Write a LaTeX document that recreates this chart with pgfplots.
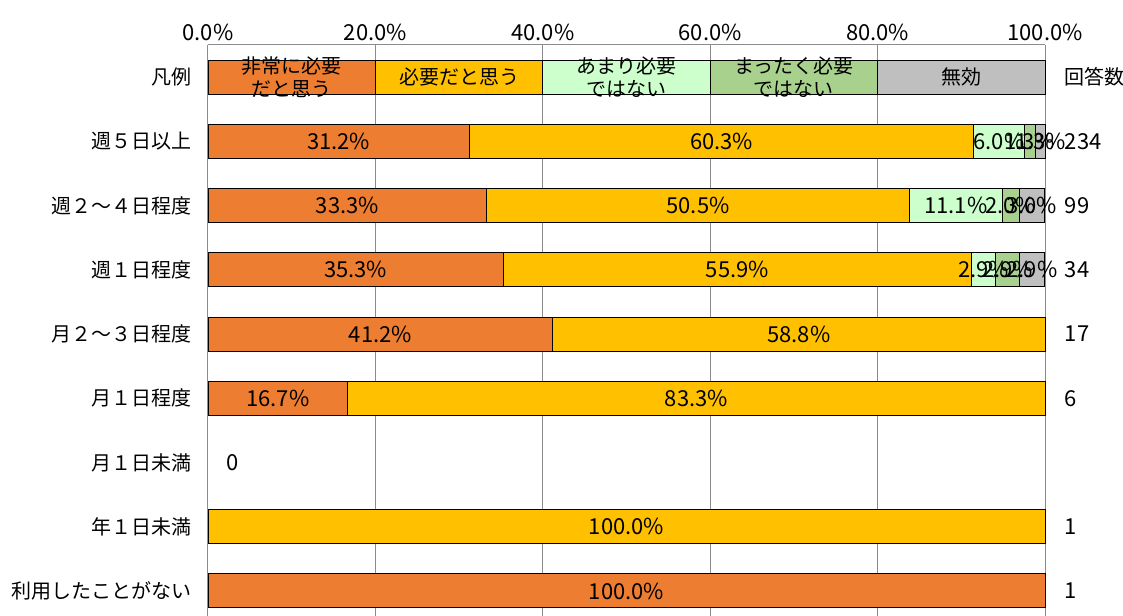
\documentclass[border=0pt]{standalone}
\usepackage{fontspec}
\setmainfont{Noto Sans CJK JP}
\usepackage{pgfplots}
\pgfplotsset{compat=1.18}
\usepackage{pgfplotstable}
\definecolor{c1}{HTML}{ED7D31}
\definecolor{c2}{HTML}{FFC000}
\definecolor{c3}{HTML}{CCFFCC}
\definecolor{c4}{HTML}{A9D18E}
\definecolor{c5}{HTML}{BFBFBF}
\definecolor{gridc}{HTML}{8C8C8C}
\newcommand\myfont{\fontsize{15}{17.5}\selectfont}
\newcommand\numfont{\fontsize{16.5}{19}\selectfont}

% stacked shares (row index y: 0 = legend row)
\pgfplotstableread{
y s1 s2 s3 s4 s5
0 20 20 20 20 20
1 31.2 60.3 6.0 1.3 1.3
2 33.3 50.5 11.1 2.0 3.0
3 35.3 55.9 2.9 2.9 2.9
4 41.2 58.8 0 0 0
5 16.7 83.3 0 0 0
6 0 0 0 0 0
7 0 100 0 0 0
8 100 0 0 0 0
}\shares

% labels at segment centres
\pgfplotstableread{
x y l
15.6 1 31.2\%
61.35 1 60.3\%
94.5 1 6.0\%
98.15 1 1.3\%
99.45 1 1.3\%
16.65 2 33.3\%
58.55 2 50.5\%
89.35 2 11.1\%
95.9 2 2.0\%
98.4 2 3.0\%
17.65 3 35.3\%
63.25 3 55.9\%
92.65 3 2.9\%
95.55 3 2.9\%
98.45 3 2.9\%
20.6 4 41.2\%
70.6 4 58.8\%
8.35 5 16.7\%
58.35 5 83.3\%
50 7 100.0\%
50 8 100.0\%
}\labels

\pgfplotstableread{
x y l
101.8 1 234
101.8 2 99
101.8 3 34
101.8 4 17
101.8 5 6
1.7 6 0
101.8 7 1
101.8 8 1
}\counts

\pgfplotsset{
  geom/.style={
    at={(0pt,0pt)}, anchor=south west,
    scale only axis, width=627.75pt, height=428.25pt,
    xmin=0, xmax=100, ymin=-0.5, ymax=8.39, y dir=reverse,
    clip=false,
  }
}

\begin{document}
\begin{tikzpicture}[font=\myfont]
\useasboundingbox (-156pt,0pt) rectangle (686.25pt,462pt);
\begin{axis}[geom,
  xbar stacked, bar width=25.5pt,
  axis x line*=top, axis y line*=left,
  axis line style={draw=gridc, line width=0.75pt},
  xtick={0,20,...,100},
  xticklabels={0.0\%,20.0\%,40.0\%,60.0\%,80.0\%,100.0\%},
  xmajorgrids, grid style={draw=gridc, line width=0.75pt},
  ytick={0,...,8},
  yticklabels={凡例,週５日以上,週２～４日程度,週１日程度,月２～３日程度,月１日程度,月１日未満,年１日未満,利用したことがない},
  major tick length=0pt,
  xticklabel style={font=\numfont},
  yticklabel style={font=\myfont, xshift=-9pt},
  every axis plot/.append style={draw=black, line width=0.7pt},
]
\addplot[fill=c1] table[x=s1,y=y]{\shares};
\addplot[fill=c2] table[x=s2,y=y]{\shares};
\addplot[fill=c3] table[x=s3,y=y]{\shares};
\addplot[fill=c4] table[x=s4,y=y]{\shares};
\addplot[fill=c5] table[x=s5,y=y]{\shares};
\end{axis}
\begin{axis}[geom, hide axis,
  every node near coord/.append style={text=black, align=center},
]
\addplot[only marks, mark=none, nodes near coords, point meta=explicit symbolic, nodes near coords align={center}, every node near coord/.append style={font=\numfont}] table[x=x,y=y,meta=l]{\labels};
\addplot[only marks, mark=none, nodes near coords, point meta=explicit symbolic, nodes near coords align={west}, every node near coord/.append style={font=\numfont}] table[x=x,y=y,meta=l]{\counts};
\addplot[only marks, mark=none, nodes near coords={回答数}, nodes near coords align={west}, every node near coord/.append style={font=\myfont}] coordinates {(101.8,0)};
\addplot[only marks, mark=none, nodes near coords={非常に必要\\だと思う}, nodes near coords align={center}, every node near coord/.append style={font=\myfont}] coordinates {(10,0)};
\addplot[only marks, mark=none, nodes near coords={必要だと思う}, nodes near coords align={center}, every node near coord/.append style={font=\myfont}] coordinates {(30,0)};
\addplot[only marks, mark=none, nodes near coords={あまり必要\\ではない}, nodes near coords align={center}, every node near coord/.append style={font=\myfont}] coordinates {(50,0)};
\addplot[only marks, mark=none, nodes near coords={まったく必要\\ではない}, nodes near coords align={center}, every node near coord/.append style={font=\myfont}] coordinates {(70,0)};
\addplot[only marks, mark=none, nodes near coords={無効}, nodes near coords align={center}, every node near coord/.append style={font=\myfont}] coordinates {(90,0)};
\end{axis}
\end{tikzpicture}
\end{document}
